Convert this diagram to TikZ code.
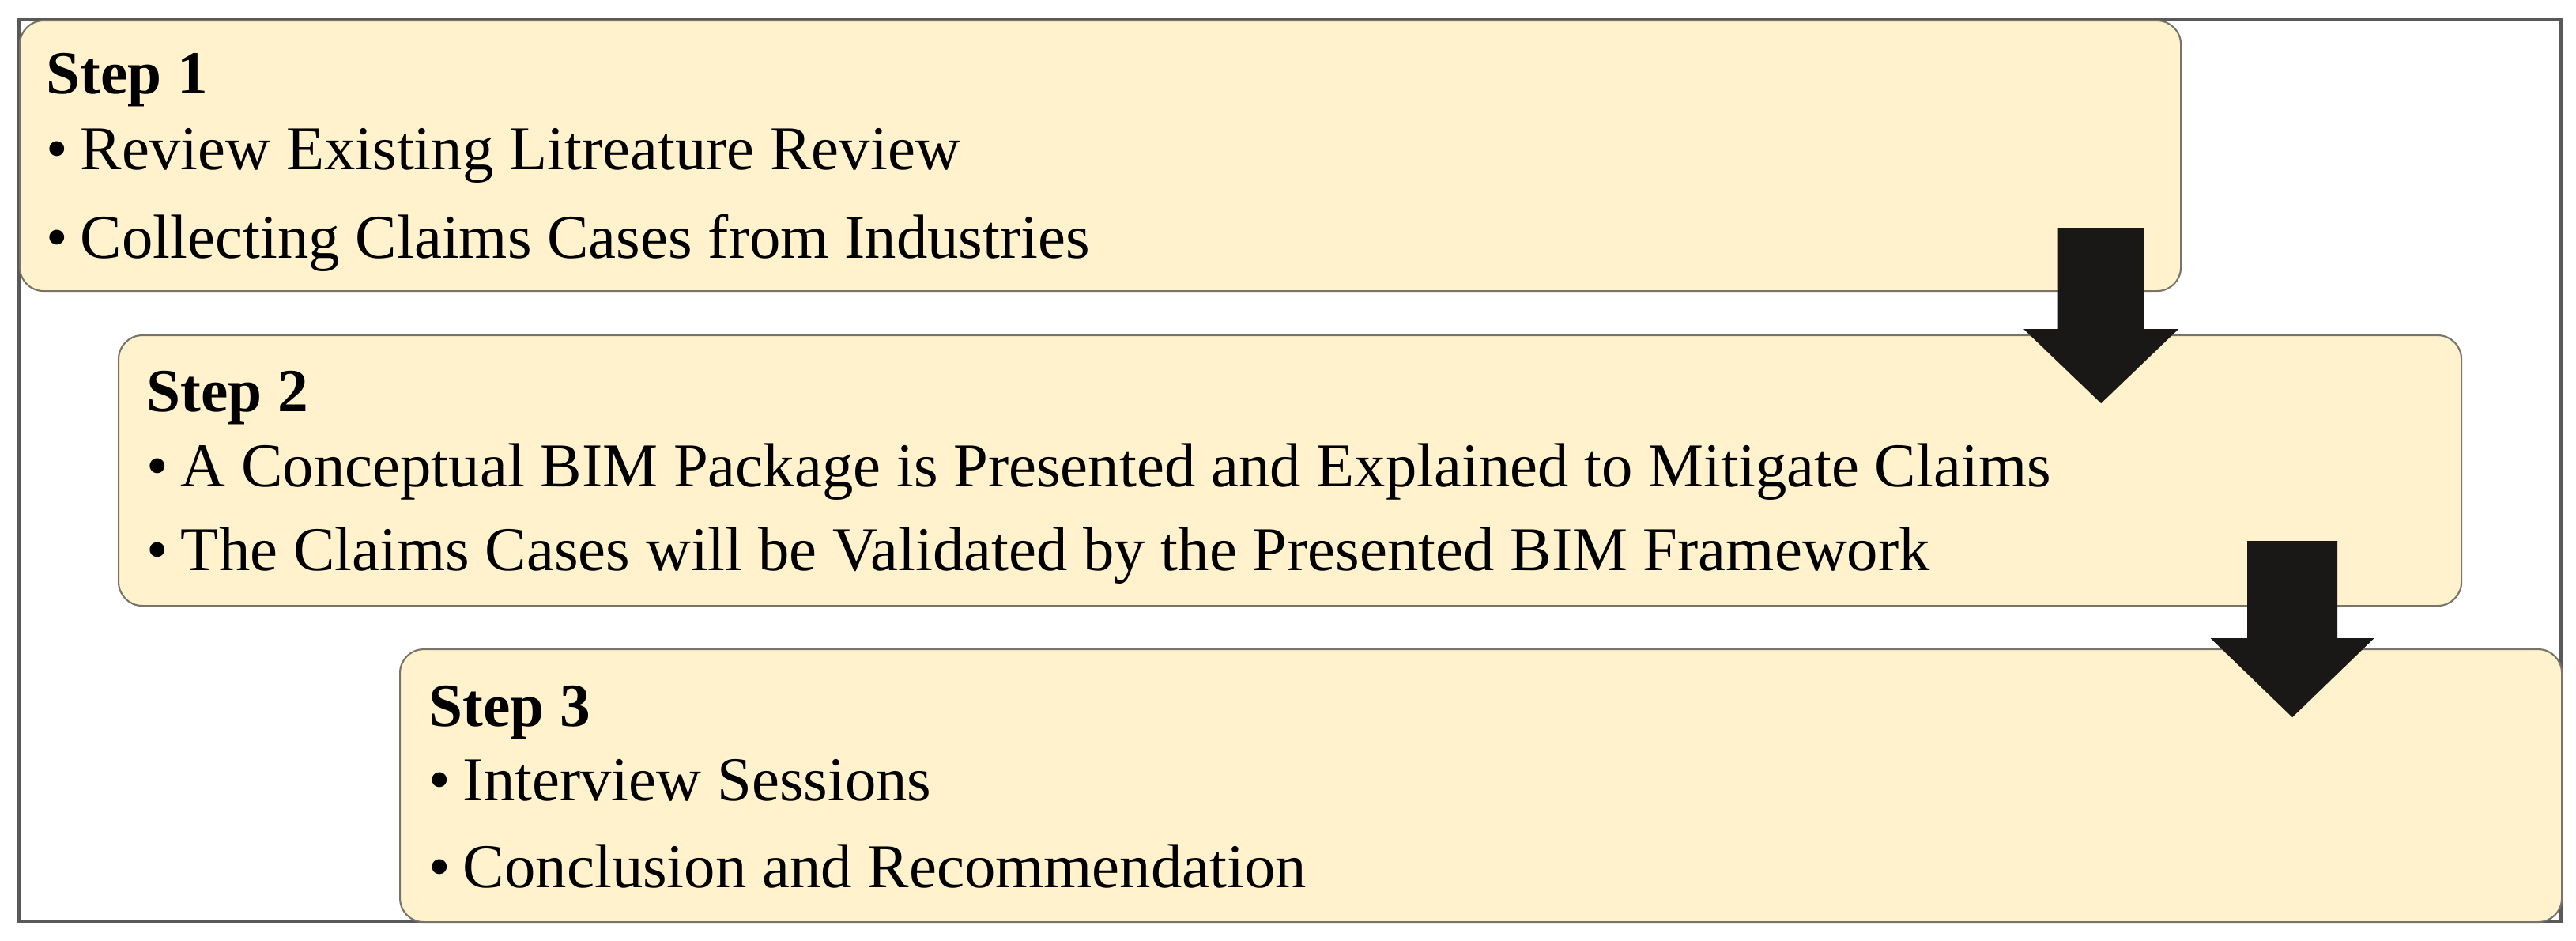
\documentclass[tikz,border=0pt]{standalone}
\usepackage{fontspec}
\setmainfont{Liberation Serif}
\usetikzlibrary{positioning}

\definecolor{boxfill}{RGB}{255,242,204}
\definecolor{boxline}{RGB}{120,116,106}
\definecolor{arrowfill}{RGB}{26,24,22}
\newcommand{\stepdot}{\textbullet\hspace{0.2em}}

\begin{document}
\begin{tikzpicture}[
    frame/.style={draw=black!65, line width=1.1pt},
    stepbox/.style={rectangle, draw=boxline, fill=boxfill, line width=0.6pt, rounded corners=0.3cm, anchor=north west, inner sep=0pt},
    steptitle/.style={anchor=base west, inner sep=0pt, font=\fontsize{22}{26}\selectfont\bfseries},
    stepitem/.style={anchor=base west, inner sep=0pt, font=\fontsize{22.4}{26}\selectfont},
    blockarrow/.style={fill=arrowfill, draw=none},
]
\useasboundingbox (0,0) rectangle (32.59,-11.89);
% outer frame
\draw[frame] (0.24,-0.25) rectangle (32.40,-11.65);

% step 1
\node[stepbox, minimum width=27.34cm, minimum height=3.42cm] (step1) at (0.24,-0.25) {};
\node[steptitle] (title1) at ([shift={(0.34,-0.93)}]step1.north west) {Step 1};
\node[stepitem] (item1a) at ([shift={(0.34,-1.89)}]step1.north west) {\stepdot Review Existing Litreature Review};
\node[stepitem] (item1b) at ([shift={(0.34,-3.01)}]step1.north west) {\stepdot Collecting Claims Cases from Industries};

% step 2
\node[stepbox, minimum width=29.64cm, minimum height=3.42cm] (step2) at (1.49,-4.23) {};
\node[steptitle] (title2) at ([shift={(0.36,-0.97)}]step2.north west) {Step 2};
\node[stepitem] (item2a) at ([shift={(0.36,-1.92)}]step2.north west) {\stepdot A Conceptual BIM Package is Presented and Explained to Mitigate Claims};
\node[stepitem] (item2b) at ([shift={(0.36,-2.98)}]step2.north west) {\stepdot The Claims Cases will be Validated by the Presented BIM Framework};

% step 3
\node[stepbox, minimum width=27.35cm, minimum height=3.45cm] (step3) at (5.05,-8.20) {};
\node[steptitle] (title3) at ([shift={(0.37,-0.98)}]step3.north west) {Step 3};
\node[stepitem] (item3a) at ([shift={(0.37,-1.92)}]step3.north west) {\stepdot Interview Sessions};
\node[stepitem] (item3b) at ([shift={(0.37,-3.02)}]step3.north west) {\stepdot Conclusion and Recommendation};

% arrow from step 1 to step 2
\coordinate (arr1) at ([xshift=-1.02cm, yshift=0.81cm]step1.south east);
\draw[blockarrow] (arr1) ++(-0.545,0) -- ++(1.09,0) -- ++(0,-1.28) -- ++(0.435,0)
    -- ++(-0.98,-0.94) -- ++(-0.98,0.94) -- ++(0.435,0) -- cycle;
% arrow from step 2 to step 3
\coordinate (arr2) at ([xshift=-2.15cm, yshift=0.83cm]step2.south east);
\draw[blockarrow] (arr2) ++(-0.57,0) -- ++(1.14,0) -- ++(0,-1.23) -- ++(0.465,0)
    -- ++(-1.035,-1.00) -- ++(-1.035,1.00) -- ++(0.465,0) -- cycle;
\end{tikzpicture}
\end{document}
